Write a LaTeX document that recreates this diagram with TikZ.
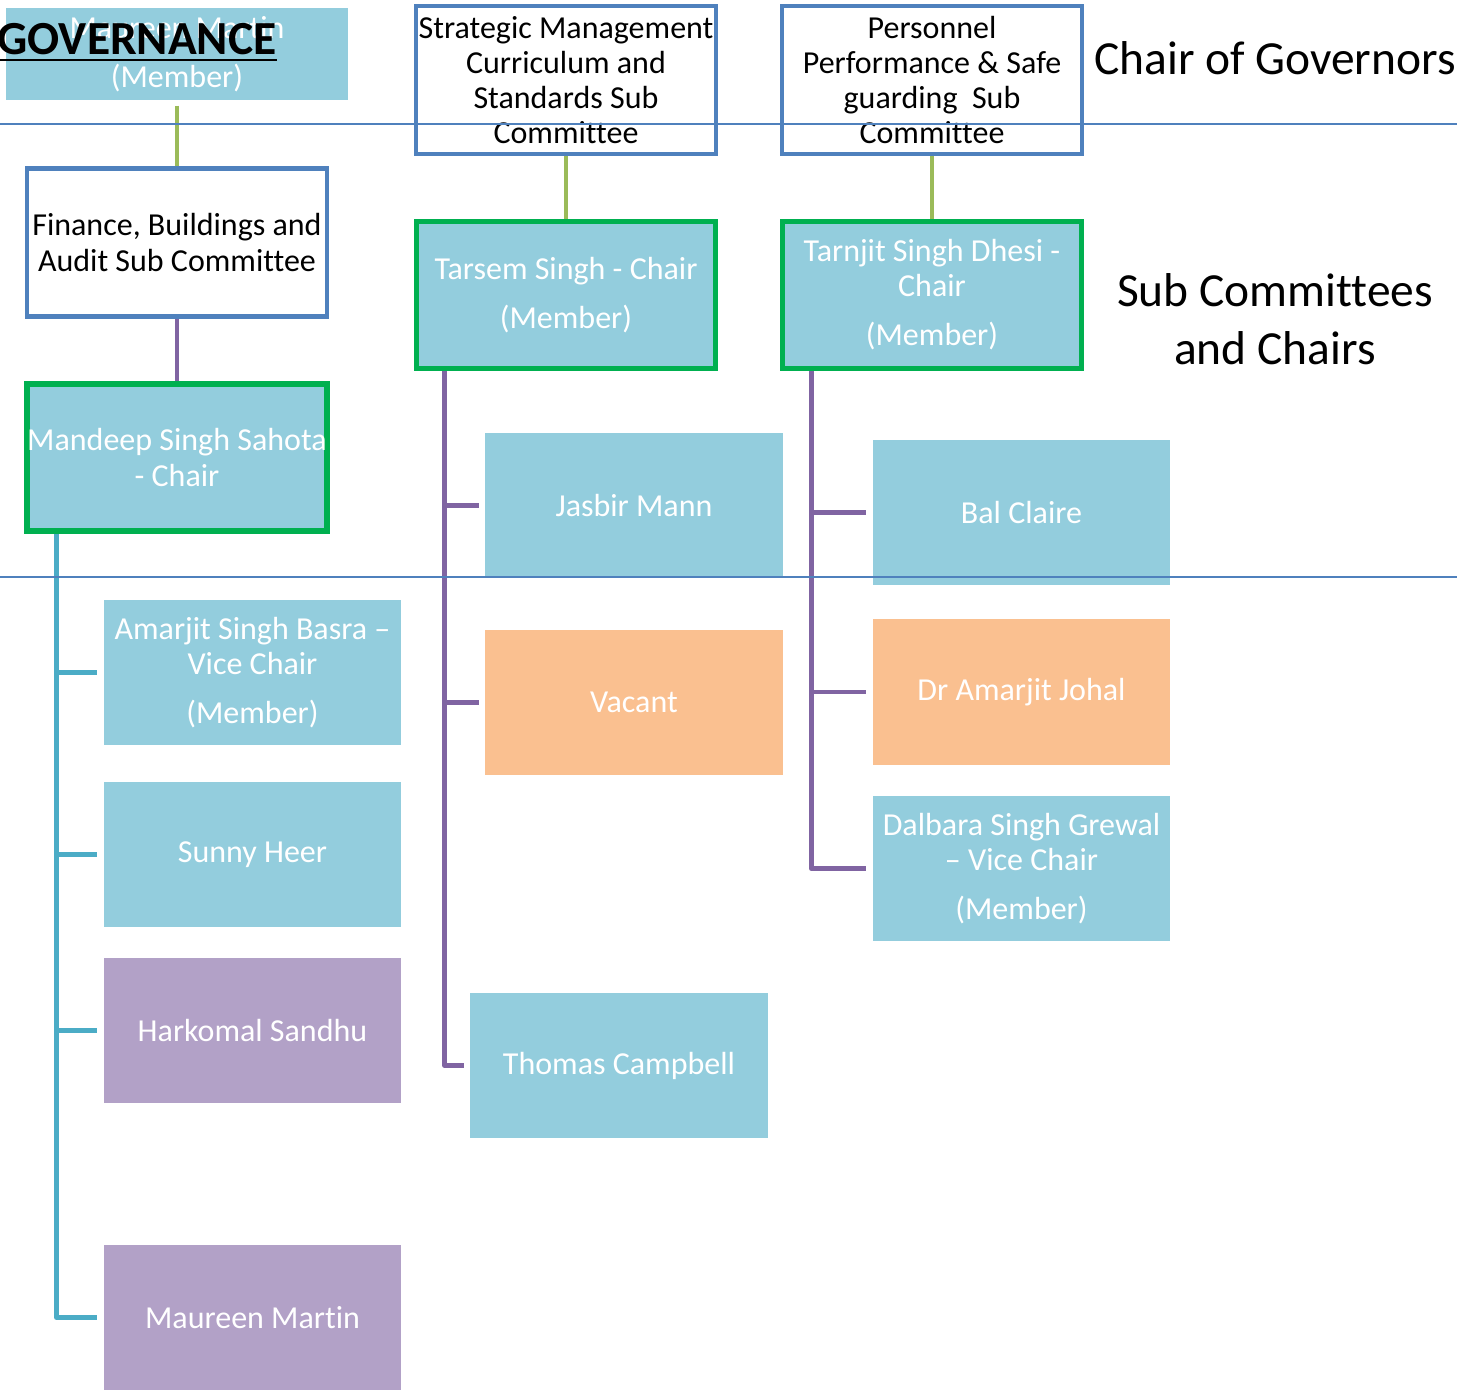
\documentclass[tikz,border=0pt]{standalone}
\usepackage{fontspec}
\setmainfont{Carlito}[Ligatures=NoCommon]
\usepackage{xcolor}
\usepackage{tikz}
\usetikzlibrary{calc}
\definecolor{boxblue}{HTML}{93CDDD}
\definecolor{boxorange}{HTML}{FAC090}
\definecolor{boxpurple}{HTML}{B2A1C7}
\definecolor{edgeblue}{HTML}{4F81BD}
\definecolor{edgegreen}{HTML}{00B050}
\definecolor{linegreen}{HTML}{9BBB59}
\definecolor{linepurple}{HTML}{8064A2}
\definecolor{lineteal}{HTML}{4BACC6}
\newcommand{\boxfont}{\fontsize{9.1pt}{9.96pt}\selectfont}
\newcommand{\headfont}{\fontsize{13.5pt}{16.5pt}\selectfont}
\tikzstyle{member}=[rectangle, fill=boxblue, text=white, align=center, inner sep=0pt, minimum width=2.97cm, minimum height=1.45cm, font=\boxfont]
\tikzstyle{committee}=[rectangle, draw=edgeblue, line width=1.3pt, fill=white, text=black, align=center, inner sep=0pt, minimum width=3.0cm, minimum height=1.48cm, font=\boxfont]
\tikzstyle{chair}=[member, draw=edgegreen, line width=1.6pt, minimum width=2.99cm, minimum height=1.47cm]
\tikzstyle{gline}=[linegreen, line width=1.3pt]
\tikzstyle{pline}=[linepurple, line width=1.4pt, line join=round]
\tikzstyle{tline}=[lineteal, line width=1.4pt, line join=round]

\begin{document}
\begin{tikzpicture}[x=0.01cm, y=-0.01cm]
    \useasboundingbox (0,0) rectangle (1464,1390);
    % Nodes
    \node [member, minimum width=3.42cm, minimum height=0.92cm] (MM) at (177,54) {Maureen Martin\\[4pt](Member)};
    \node [committee] (FB) at (177,242.5) {Finance, Buildings and\\Audit Sub Committee};
    \node [chair] (MS) at (177,457.5) {Mandeep Singh Sahota\\- Chair};
    \node [member] (AB) at (252.5,672.5) {Amarjit Singh Basra \textendash\\Vice Chair\\[4pt](Member)};
    \node [member] (SH) at (252.5,854.5) {Sunny Heer};
    \node [member, fill=boxpurple] (HS) at (252.5,1030.5) {Harkomal Sandhu};
    \node [member, fill=boxpurple] (MM2) at (252.5,1317.5) {Maureen Martin};

    \node [committee] (SM) at (566,80) {Strategic Management\\Curriculum and\\Standards Sub\\Committee};
    \node [chair] (TS) at (566,295) {Tarsem Singh - Chair\\[4pt](Member)};
    \node [member] (JM) at (634,505.5) {Jasbir Mann};
    \node [member, fill=boxorange] (VA) at (634,702.5) {Vacant};
    \node [member] (TC) at (619,1065.5) {Thomas Campbell};

    \node [committee] (PP) at (932,80) {Personnel\\Performance \& Safe\\guarding\ \ Sub\\Committee};
    \node [chair] (TD) at (932,295) {Tarnjit Singh Dhesi -\\Chair\\[4pt](Member)};
    \node [member] (BC) at (1021.5,512.5) {Bal Claire};
    \node [member, fill=boxorange] (AJ) at (1021.5,692) {Dr Amarjit Johal};
    \node [member] (DG) at (1021.5,868.5) {Dalbara Singh Grewal\\\textendash\ Vice Chair\\[4pt](Member)};

    \node [inner sep=0pt, font=\headfont\bfseries] (GOV) at (137,43) {\underline{GOVERNANCE}};
    \node [inner sep=0pt, font=\headfont] (CG) at (1275,58) {Chair of Governors};
    \node [inner sep=0pt, font=\headfont, align=center] (SC) at (1275,319) {Sub Committees\\and Chairs};

    % Connectors
    \draw [gline, shorten <=1.4pt] (MM) -- (FB);
    \draw [gline] (SM) -- (TS);
    \draw [gline] (PP) -- (TD);
    \draw [pline] (FB) -- (MS);
    \foreach \n in {AB,SH,HS,MM2}
        \draw [tline, shorten >=1.7pt] ([xshift=0.32cm]MS.south west) |- (\n.west);
    \foreach \n in {JM,VA,TC}
        \draw [pline, shorten >=1.7pt] ([xshift=0.31cm]TS.south west) |- (\n.west);
    \foreach \n in {BC,AJ,DG}
        \draw [pline, shorten >=1.7pt] ([xshift=0.315cm]TD.south west) |- (\n.west);

    % Dividers
    \draw [edgeblue, line width=0.45pt] (0,124) -- (1457,124);
    \draw [edgeblue, line width=0.45pt] (0,577) -- (1457,577);
\end{tikzpicture}
\end{document}
